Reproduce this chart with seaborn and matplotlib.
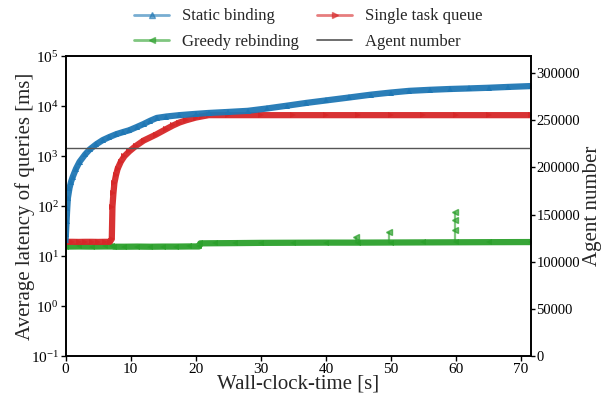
import numpy as np
import pandas as pd
import matplotlib
matplotlib.use("Agg")
import matplotlib.pyplot as plt
from matplotlib.lines import Line2D
import seaborn as sns

# ---------------- data ----------------
t_static = [0.0, 0.05, 0.15, 0.25, 0.35, 0.6, 0.85, 1.1, 1.6, 2.15, 3.0, 3.7, 4.7, 5.7,
            6.7, 7.8, 8.8, 9.8, 11, 12, 13, 14, 15.5, 17.5, 20, 22, 25, 28, 31, 34, 37,
            40, 43.6, 47, 50, 52.8, 56, 59, 62, 65, 68, 71.5]
v_static = [21, 28, 50, 90, 145, 230, 310, 385, 560, 770, 1080, 1360, 1720, 2090,
            2400, 2750, 3020, 3300, 3850, 4400, 5100, 5800, 6200, 6600, 7000, 7300, 7650,
            8050, 9000, 10200, 11600, 13000, 14900, 17000, 18700, 20200, 21200, 22000,
            22600, 23300, 24200, 25200]

t_single = [0, 1, 2, 3, 4, 5, 6, 6.8, 7.1, 7.2, 7.35, 7.5, 7.75, 8.0, 8.5, 9.05, 9.8,
            10.8, 12, 13.9, 15.5, 16.5, 17.5, 18.5, 20, 21, 22, 25, 30, 35, 40, 45, 50,
            55, 60, 65, 71.5]
v_single = [19.3, 19.3, 19.2, 19.3, 19.3, 19.2, 19.3, 19.3, 22, 97, 180, 290, 420, 560,
            780, 1000, 1250, 1600, 2050, 2700, 3500, 4100, 4700, 5200, 5900, 6250, 6600,
            6600, 6600, 6600, 6600, 6600, 6600, 6600, 6600, 6600, 6600]

t_greedy = [0, 2, 4, 6, 7.2, 7.4, 9, 11, 13, 15, 17, 19, 20.5, 20.7, 23, 26, 30, 35, 40,
            45, 50, 55, 60, 65, 71.5]
v_greedy = [15.5, 15.6, 15.5, 15.6, 15.6, 15.4, 15.4, 15.5, 15.4, 15.5, 15.5, 15.6, 15.6,
            18.0, 18.1, 18.2, 18.4, 18.5, 18.6, 18.6, 18.7, 18.8, 18.9, 19.0, 19.1]

# isolated outliers of the greedy rebinding series
spike_t = [44.6, 49.7, 59.8]
spike_base = [18.6, 18.7, 18.9]
spike_peak = [24, 30, 76]
spike_mid_t = [59.8, 59.8]
spike_mid_v = [33, 52]

t_agent = [0, 71.5]
v_agent = [221000, 221000]

labels = ["Static binding", "Single task queue", "Greedy rebinding", "Agent number"]
c_blue, c_red, c_green, c_agent = "#1f77b4", "#d62728", "#2ca02c", "#555555"

# ---------------- plot ----------------
sns.set_style("ticks")
plt.rcParams["font.family"] = ["Liberation Serif", "DejaVu Serif"]
plt.rcParams["mathtext.fontset"] = "stix"

fig = plt.figure(figsize=(6.13, 4.01), dpi=100)
ax = fig.add_axes([0.107, 0.112, 0.759, 0.748])

df_s = pd.DataFrame({"t": t_static, "v": v_static})
df_q = pd.DataFrame({"t": t_single, "v": v_single})
df_g = pd.DataFrame({"t": t_greedy, "v": v_greedy})

sns.lineplot(data=df_g, x="t", y="v", ax=ax, color=c_green, lw=4.5, marker="<",
             markersize=4, markeredgewidth=0, alpha=0.95, estimator=None, sort=False)
ax.vlines(spike_t, spike_base, spike_peak, color=c_green, lw=1.6, alpha=0.6)
ax.plot(spike_t, spike_peak, ls="none", marker="<", color=c_green, ms=4, alpha=0.7)
ax.plot(spike_mid_t, spike_mid_v, ls="none", marker="<", color=c_green, ms=4, alpha=0.7)
sns.lineplot(data=df_q, x="t", y="v", ax=ax, color=c_red, lw=4.5, marker=">",
             markersize=4, markeredgewidth=0, alpha=0.95, estimator=None, sort=False)
sns.lineplot(data=df_s, x="t", y="v", ax=ax, color=c_blue, lw=4.5, marker="^",
             markersize=4, markeredgewidth=0, alpha=0.95, estimator=None, sort=False)

ax.set_yscale("log")
ax.set_ylim(0.1, 1e5)
ax.set_xlim(0, 71.5)
ax.set_xticks([0, 10, 20, 30, 40, 50, 60, 70])
ax.yaxis.set_minor_locator(matplotlib.ticker.NullLocator())
ax.set_xlabel("Wall-clock-time [s]", fontsize=15, labelpad=-1)
ax.set_ylabel("Average latency of queries [ms]", fontsize=15, labelpad=-3)
ax.tick_params(labelsize=11, length=3.5, width=1, colors="black", pad=1.5)

ax2 = ax.twinx()
sns.lineplot(x=t_agent, y=v_agent, ax=ax2, color=c_agent, lw=1.0)
ax2.set_ylim(0, 318000)
ax2.set_yticks([0, 50000, 100000, 150000, 200000, 250000, 300000])
ax2.tick_params(labelsize=10.5, length=3.0, width=1, colors="black", pad=1)
ax2.set_ylabel("Agent number", fontsize=15, labelpad=2)

for a in (ax, ax2):
    for s in a.spines.values():
        s.set_visible(True)
        s.set_color("black")
        s.set_linewidth(1.2)

handles = [
    Line2D([], [], color=c_blue, lw=2, marker="^", ms=4, alpha=0.6),
    Line2D([], [], color=c_green, lw=2, marker="<", ms=4, alpha=0.6),
    Line2D([], [], color=c_red, lw=2, marker=">", ms=4, alpha=0.6),
    Line2D([], [], color=c_agent, lw=1.2),
]
leg_labels = [labels[0], labels[2], labels[1], labels[3]]
fig.legend(handles, leg_labels, ncol=2, frameon=False, fontsize=12,
           loc="upper center", bbox_to_anchor=(0.503, 1.0), columnspacing=1.1,
           handlelength=2.1, handletextpad=0.75, borderaxespad=0.1, labelspacing=0.55)

fig.savefig("out.png", dpi=100)
